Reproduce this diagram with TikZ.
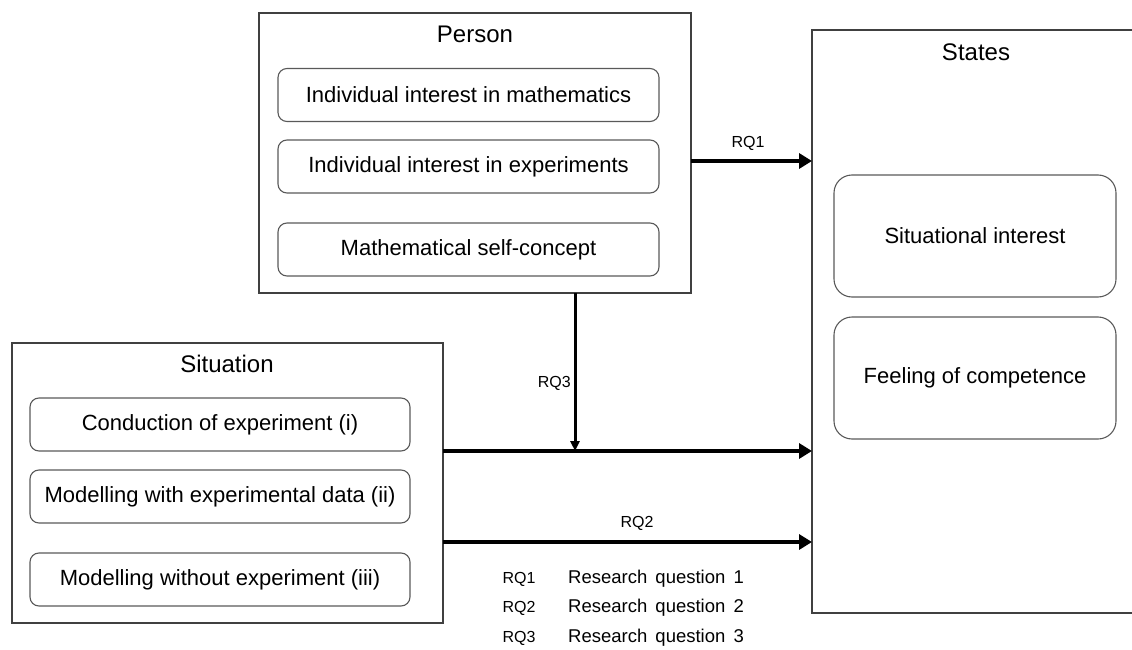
\documentclass[tikz,border=0pt]{standalone}
\usepackage{fontspec}
\setmainfont{Liberation Sans}
\usetikzlibrary{arrows.meta,calc}
\tikzset{
  frame/.style={draw=black!75, line width=1.5pt, inner sep=0pt, outer sep=0pt},
  innerbox/.style={draw=black!65, line width=1.1pt, rounded corners=9pt, inner sep=0pt, outer sep=0pt,
    font=\fontsize{22}{26}\selectfont, text=black},
  statebox/.style={draw=black!65, line width=1.1pt, rounded corners=18pt, inner sep=0pt, outer sep=0pt,
    minimum width=282pt, minimum height=122pt, font=\fontsize{22}{26}\selectfont, text=black},
  titletext/.style={font=\fontsize{24}{28}\selectfont, inner sep=0pt},
  rqlabel/.style={font=\fontsize{16}{19}\selectfont, inner sep=0pt},
  legtext/.style={font=\fontsize{18.5}{22}\selectfont, inner sep=0pt, anchor=west},
  bigarrow/.style={line width=4.6pt, -{Triangle[length=13pt,width=15pt]}},
  thinarrow/.style={line width=3pt, -{Triangle[length=10pt,width=9pt]}}
}
\begin{document}
\begin{tikzpicture}[x=1pt,y=-1pt]
\useasboundingbox (0,0) rectangle (1132,650);
% Person
\node[frame, minimum width=432pt, minimum height=280pt] (person) at (475,153) {};
\node[titletext] (persont) at (475,34) {Person};
\node[innerbox, minimum width=381pt, minimum height=53pt] (p1) at (468.5,95) {Individual interest in mathematics};
\node[innerbox, minimum width=381pt, minimum height=53pt] (p2) at (468.5,166.5) {Individual interest in experiments};
\node[innerbox, minimum width=381pt, minimum height=53pt] (p3) at (468.5,249.5) {Mathematical self-concept};
% Situation
\node[frame, minimum width=431pt, minimum height=280pt] (situation) at (227.5,483) {};
\node[titletext] (situationt) at (227,364) {Situation};
\node[innerbox, minimum width=380pt, minimum height=53pt] (s1) at (220,424.5) {Conduction of experiment (i)};
\node[innerbox, minimum width=380pt, minimum height=53pt] (s2) at (220,496.5) {Modelling with experimental data (ii)};
\node[innerbox, minimum width=380pt, minimum height=53pt] (s3) at (220,579.5) {Modelling without experiment (iii)};
% States
\node[inner sep=0pt, outer sep=0pt, minimum width=320pt, minimum height=583pt] (states) at (972,321.5) {};
\draw[black!75, line width=1.5pt] (states.north east) -- (states.north west) -- (states.south west) -- (states.south east);
\node[titletext] (statest) at (976,52) {States};
\node[statebox] (st1) at (975,236) {Situational interest};
\node[statebox] (st2) at (975,378) {Feeling of competence};
% Arrows
\draw[bigarrow] ([yshift=-8pt]person.east) -- ([yshift=-8pt]person.east -| states.west);
\node[rqlabel] (rq1) at (748,143) {RQ1};
\coordinate (mid) at ([yshift=32pt]situation.east);
\draw[bigarrow] (mid) -- (mid -| states.west);
\draw[thinarrow] ([xshift=100pt]person.south) -- ([xshift=100pt]person.south |- mid);
\node[rqlabel, anchor=east] (rq3) at (571,383) {RQ3};
\draw[bigarrow] ([yshift=-59pt]situation.east) -- ([yshift=-59pt]situation.east -| states.west);
\node[rqlabel] (rq2) at (637,523) {RQ2};
% Legend
\node[rqlabel] (l1) at (519,579) {RQ1};
\node[rqlabel] (l2) at (519,608) {RQ2};
\node[rqlabel] (l3) at (519,638) {RQ3};
\node[legtext] (t1) at (568,579) {Research\hspace{3pt} question\hspace{3pt} 1};
\node[legtext] (t2) at (568,608) {Research\hspace{3pt} question\hspace{3pt} 2};
\node[legtext] (t3) at (568,638) {Research\hspace{3pt} question\hspace{3pt} 3};
\end{tikzpicture}
\end{document}
